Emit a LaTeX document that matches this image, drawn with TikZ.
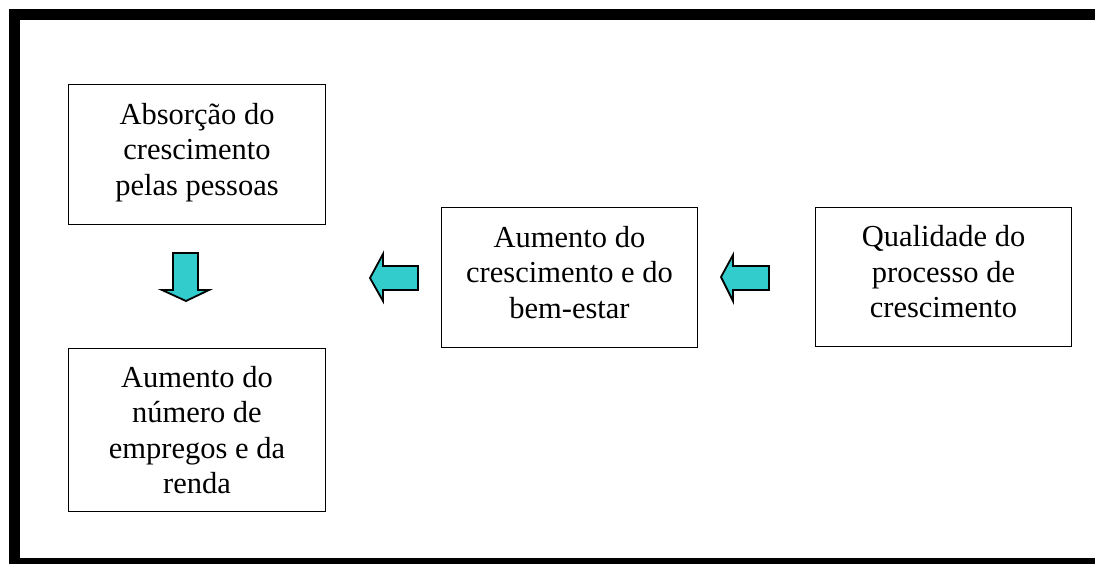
\documentclass[tikz,border=0pt]{standalone}
\usepackage{fontspec}
\setmainfont{Liberation Serif}
\definecolor{arrowcyan}{HTML}{33CCCC}
\begin{document}
\begin{tikzpicture}[x=1pt,y=-1pt,
  box/.style={draw, line width=1.8pt, inner sep=0pt},
  boxtext/.style={inner sep=0pt, align=center, font=\fontsize{30.5}{35.5}\selectfont},
  blockarrow/.style={draw, line width=1.8pt, fill=arrowcyan, line join=miter}]
\useasboundingbox (0,0) rectangle (1095,563);
\clip (0,0) rectangle (1095,563);
\draw[line width=11pt] (14.5,14.5) rectangle (1102,563.5);
% boxes
\node[box, minimum width=257pt, minimum height=140pt] (absorcao) at (197,154.5) {};
\node[box, minimum width=257pt, minimum height=163pt] (empregos) at (197,430) {};
\node[box, minimum width=256pt, minimum height=140pt] (aumento) at (569.5,277.5) {};
\node[box, minimum width=256pt, minimum height=139pt] (qualidade) at (943.5,277) {};
% texts
\node[boxtext] (t1) at ([yshift=2pt]absorcao.center) {Absorção do\\crescimento\\pelas pessoas};
\node[boxtext] (t2) at (empregos.center) {Aumento do\\número de\\empregos e da\\renda};
\node[boxtext] (t3) at ([yshift=5pt]aumento.center) {Aumento do\\crescimento e do\\bem-estar};
\node[boxtext] (t4) at ([yshift=5pt]qualidade.center) {Qualidade do\\processo de\\crescimento};
% block arrows
\draw[blockarrow] (173,253) -- (198,253) -- (198,290) -- (209,290) -- (186,301) -- (162,290) -- (173,290) -- cycle;
\draw[blockarrow] (418,266) -- (418,290) -- (383,290) -- (383,301) -- (370,278) -- (383,254) -- (383,266) -- cycle;
\draw[blockarrow] (769,266) -- (769,290) -- (733,290) -- (733,301) -- (721,277) -- (733,255) -- (733,266) -- cycle;
\end{tikzpicture}
\end{document}
